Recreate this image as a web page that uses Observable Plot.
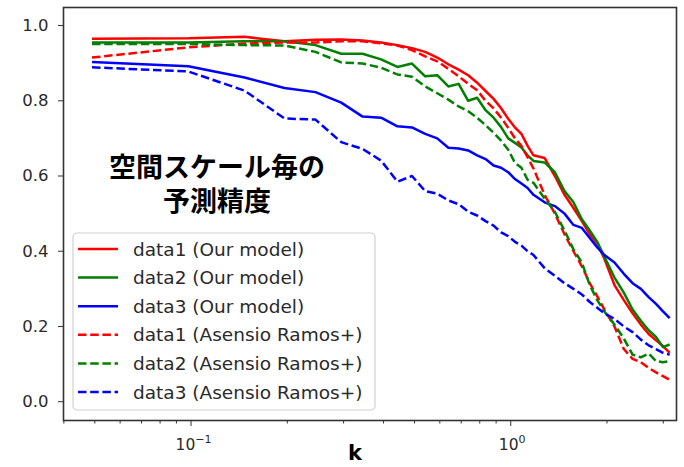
<!DOCTYPE html>
<html>
<head>
<meta charset="utf-8">
<script src="https://cdn.jsdelivr.net/npm/d3@7"></script>
<script src="https://cdn.jsdelivr.net/npm/@observablehq/plot@0.6"></script>
<style>
  html, body { margin: 0; padding: 0; background: #fff; }
  #chart svg { display: block; }
</style>
</head>
<body>
<div id="chart"></div>
<script>
// Wavenumbers k (linear spacing, shown on a log axis)
const k = [0.049, 0.098, 0.147, 0.196, 0.245, 0.295, 0.344, 0.393, 0.442, 0.491,
           0.540, 0.589, 0.638, 0.687, 0.736, 0.785, 0.834, 0.884, 0.933, 0.982,
           1.031, 1.080, 1.129, 1.178, 1.276, 1.374, 1.473, 1.571, 1.669, 1.767,
           1.865, 1.963, 2.111, 2.258, 2.405, 2.553, 2.700, 2.847, 2.994, 3.142];

// Prediction accuracy per spatial scale
const data1Ours = [0.965, 0.966, 0.970, 0.958, 0.962, 0.963, 0.960, 0.955, 0.948, 0.940,
                   0.930, 0.915, 0.897, 0.883, 0.868, 0.848, 0.826, 0.805, 0.780, 0.752,
                   0.729, 0.712, 0.680, 0.655, 0.648, 0.600, 0.550, 0.515, 0.480, 0.445,
                   0.420, 0.380, 0.310, 0.270, 0.235, 0.205, 0.180, 0.163, 0.148, 0.130];
const data2Ours = [0.955, 0.955, 0.958, 0.958, 0.948, 0.925, 0.925, 0.910, 0.890, 0.899,
                   0.865, 0.868, 0.838, 0.845, 0.800, 0.808, 0.775, 0.755, 0.730, 0.700,
                   0.688, 0.676, 0.655, 0.640, 0.636, 0.610, 0.560, 0.530, 0.485, 0.455,
                   0.425, 0.385, 0.330, 0.290, 0.245, 0.215, 0.190, 0.172, 0.145, 0.152];
const data3Ours = [0.903, 0.892, 0.862, 0.834, 0.823, 0.795, 0.758, 0.755, 0.732, 0.729,
                   0.712, 0.700, 0.675, 0.673, 0.668, 0.655, 0.645, 0.628, 0.622, 0.610,
                   0.592, 0.580, 0.568, 0.550, 0.530, 0.520, 0.500, 0.470, 0.462, 0.435,
                   0.410, 0.390, 0.370, 0.340, 0.315, 0.300, 0.278, 0.260, 0.240, 0.222];
const data1Asensio = [0.915, 0.942, 0.952, 0.955, 0.955, 0.958, 0.958, 0.953, 0.947, 0.935,
                      0.918, 0.905, 0.885, 0.865, 0.845, 0.828, 0.800, 0.780, 0.755, 0.728,
                      0.700, 0.680, 0.650, 0.620, 0.550, 0.500, 0.445, 0.400, 0.360, 0.315,
                      0.280, 0.245, 0.200, 0.140, 0.114, 0.105, 0.090, 0.078, 0.068, 0.058];
const data2Asensio = [0.951, 0.951, 0.948, 0.947, 0.930, 0.902, 0.899, 0.888, 0.870, 0.864,
                      0.838, 0.820, 0.803, 0.785, 0.772, 0.755, 0.735, 0.715, 0.694, 0.670,
                      0.635, 0.622, 0.590, 0.582, 0.540, 0.505, 0.455, 0.405, 0.370, 0.310,
                      0.270, 0.240, 0.205, 0.168, 0.125, 0.118, 0.128, 0.108, 0.105, 0.108];
const data3Asensio = [0.889, 0.878, 0.827, 0.753, 0.750, 0.690, 0.672, 0.641, 0.585, 0.600,
                      0.560, 0.553, 0.535, 0.525, 0.505, 0.495, 0.480, 0.468, 0.450, 0.440,
                      0.425, 0.415, 0.400, 0.390, 0.355, 0.335, 0.315, 0.300, 0.285, 0.265,
                      0.250, 0.235, 0.220, 0.200, 0.185, 0.165, 0.150, 0.140, 0.130, 0.125];

const seriesNames = ["data1 (Our model)", "data2 (Our model)", "data3 (Our model)",
                     "data1 (Asensio Ramos+)", "data2 (Asensio Ramos+)", "data3 (Asensio Ramos+)"];
const seriesValues = [data1Ours, data2Ours, data3Ours, data1Asensio, data2Asensio, data3Asensio];
const seriesColors = ["#ff0000", "#008000", "#0000ff", "#ff0000", "#008000", "#0000ff"];
const seriesDashed = [false, false, false, true, true, true];

const yTicks = [0.0, 0.2, 0.4, 0.6, 0.8, 1.0];
const xMajorTicks = [0.1, 1];
const xMajorExponents = ["−1", "0"];
const xMinorTicks = [0.04, 0.05, 0.06, 0.07, 0.08, 0.09, 0.2, 0.3, 0.4, 0.5, 0.6, 0.7, 0.8, 0.9, 2, 3];

const titleLines = ["空間スケール毎の", "予測精度"];
const xLabel = "k";

const DASH = "8.5,3.7";
const LW = 2.5;
const tickFont = "DejaVu Sans, sans-serif";

const lineMarks = seriesValues.map((vals, i) =>
  Plot.line(k.map((kv, j) => ({k: kv, v: vals[j]})), {
    x: "k", y: "v",
    stroke: seriesColors[i],
    strokeWidth: LW,
    strokeDasharray: seriesDashed[i] ? DASH : null,
    strokeLinejoin: "round",
    strokeLinecap: "butt"
  })
);

const chart = Plot.plot({
  width: 684,
  height: 467,
  marginLeft: 63,
  marginRight: 8,
  marginTop: 7,
  marginBottom: 47,
  style: {fontFamily: tickFont, fontSize: "16px", color: "#2a2a2a", background: "#fff"},
  x: {type: "log", domain: [0.0399, 3.3], axis: null},
  y: {domain: [-0.05, 1.048], axis: null},
  marks: [
    Plot.axisY({ticks: yTicks, tickFormat: d => d.toFixed(1), tickSize: 5, tickPadding: 10,
                label: null, fontSize: 16.5, stroke: "#333"}),
    Plot.axisX({ticks: xMajorTicks, text: null, tickSize: 6, label: null, stroke: "#333"}),
    Plot.axisX({ticks: xMinorTicks, text: null, tickSize: 3.5, label: null, stroke: "#333"}),
    ...lineMarks,
    Plot.frame({stroke: "#333", strokeWidth: 1.6})
  ]
});

document.getElementById("chart").appendChild(chart);

const svg = d3.select(chart);
const xScale = chart.scale("x");

// Major x tick labels as powers of ten (base plus raised exponent)
const xl = svg.append("g")
  .attr("font-family", tickFont)
  .attr("fill", "#2a2a2a")
  .attr("text-anchor", "middle");
xMajorTicks.forEach((t, i) => {
  const label = xl.append("text")
    .attr("x", xScale.apply(t) + (i === 0 ? 3 : 2))
    .attr("y", 450)
    .attr("font-size", 15.5);
  label.append("tspan").text("10");
  label.append("tspan").attr("font-size", 11).attr("dy", -7).text(xMajorExponents[i]);
});

// In-plot heading
const heading = svg.append("text")
  .attr("font-family", "'Noto Sans CJK JP', sans-serif")
  .attr("font-weight", "bold")
  .attr("font-size", 27)
  .attr("fill", "#000")
  .attr("text-anchor", "middle");
titleLines.forEach((t, i) => {
  heading.append("tspan")
    .attr("x", 217)
    .attr("y", 177 + i * 34)
    .text(t);
});

// Legend box
const lg = svg.append("g")
  .attr("font-family", tickFont)
  .attr("font-size", 18.5)
  .attr("text-anchor", "start");
lg.append("rect")
  .attr("x", 73).attr("y", 233).attr("width", 302).attr("height", 177)
  .attr("rx", 4).attr("fill", "#fff").attr("fill-opacity", 0.85)
  .attr("stroke", "#d0d0d0").attr("stroke-width", 1.2);
seriesNames.forEach((name, i) => {
  const y = 249 + i * 28.6;
  lg.append("line")
    .attr("x1", 78).attr("x2", 118).attr("y1", y).attr("y2", y)
    .attr("stroke", seriesColors[i]).attr("stroke-width", LW)
    .attr("stroke-dasharray", seriesDashed[i] ? DASH : null);
  lg.append("text")
    .attr("x", 133).attr("y", y)
    .attr("dominant-baseline", "central")
    .attr("fill", "#2a2a2a")
    .text(name);
});

// x-axis label
svg.append("text")
  .attr("x", 355).attr("y", 460)
  .attr("text-anchor", "middle")
  .attr("font-family", "'DejaVu Sans', sans-serif")
  .attr("font-size", 21)
  .attr("font-weight", "bold")
  .attr("fill", "#000")
  .text(xLabel);
</script>
</body>
</html>
